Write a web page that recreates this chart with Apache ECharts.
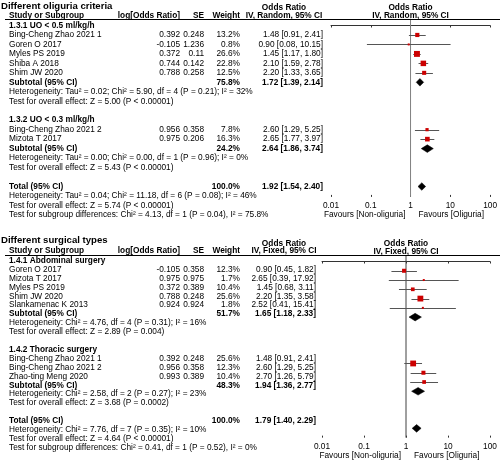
<!DOCTYPE html>
<html><head><meta charset="utf-8">
<script src="https://cdn.jsdelivr.net/npm/echarts@6/dist/echarts.min.js"></script>
<style>html,body{margin:0;padding:0;background:#fff}#c{width:500px;height:461px}</style>
</head><body><div id="c"></div><script>
// ---------------- Panel 1 data ----------------
const p1Title = "Different oliguria criteria";
const p1Model = "IV, Random, 95% CI";
const p1Groups = ["1.3.1 UO < 0.5 ml/kg/h", "1.3.2 UO < 0.3 ml/kg/h"];
const p1Studies = ["Bing-Cheng Zhao 2021 1", "Goren O 2017", "Myles PS 2019", "Shiba A 2018", "Shim JW 2020", "Bing-Cheng Zhao 2021 2", "Mizota T 2017"];
const p1StudyGroup = [0, 0, 0, 0, 0, 1, 1];
const p1LogOR = ["0.392", "-0.105", "0.372", "0.744", "0.788", "0.956", "0.975"];
const p1SE = ["0.248", "1.236", "0.11", "0.142", "0.258", "0.358", "0.206"];
const p1Weight = [13.2, 0.8, 26.6, 22.8, 12.5, 7.8, 16.3];
const p1OR = [1.48, 0.90, 1.45, 2.10, 2.20, 2.60, 2.65];
const p1Lo = [0.91, 0.08, 1.17, 1.59, 1.33, 1.29, 1.77];
const p1Hi = [2.41, 10.15, 1.80, 2.78, 3.65, 5.25, 3.97];
const p1SubWeight = [75.8, 24.2];
const p1SubOR = [1.72, 2.64];
const p1SubLo = [1.39, 1.86];
const p1SubHi = [2.14, 3.74];
const p1SubHet = ["Heterogeneity: Tau² = 0.02; Chi² = 5.90, df = 4 (P = 0.21); I² = 32%",
                  "Heterogeneity: Tau² = 0.00; Chi² = 0.00, df = 1 (P = 0.96); I² = 0%"];
const p1SubTest = ["Test for overall effect: Z = 5.00 (P < 0.00001)",
                   "Test for overall effect: Z = 5.43 (P < 0.00001)"];
const p1Total = [1.92, 1.54, 2.40];
const p1TotalNotes = ["Heterogeneity: Tau² = 0.04; Chi² = 11.18, df = 6 (P = 0.08); I² = 46%",
                      "Test for overall effect: Z = 5.74 (P < 0.00001)",
                      "Test for subgroup differences: Chi² = 4.13, df = 1 (P = 0.04), I² = 75.8%"];

// ---------------- Panel 2 data ----------------
const p2Title = "Different surgical types";
const p2Model = "IV, Fixed, 95% CI";
const p2Groups = ["1.4.1 Abdominal surgery", "1.4.2 Thoracic surgery"];
const p2Studies = ["Goren O 2017", "Mizota T 2017", "Myles PS 2019", "Shim JW 2020", "Slankamenac K 2013", "Bing-Cheng Zhao 2021 1", "Bing-Cheng Zhao 2021 2", "Zhao-ting Meng 2020"];
const p2StudyGroup = [0, 0, 0, 0, 0, 1, 1, 1];
const p2LogOR = ["-0.105", "0.975", "0.372", "0.788", "0.924", "0.392", "0.956", "0.993"];
const p2SE = ["0.358", "0.975", "0.389", "0.248", "0.924", "0.248", "0.358", "0.389"];
const p2Weight = [12.3, 1.7, 10.4, 25.6, 1.8, 25.6, 12.3, 10.4];
const p2OR = [0.90, 2.65, 1.45, 2.20, 2.52, 1.48, 2.60, 2.70];
const p2Lo = [0.45, 0.39, 0.68, 1.35, 0.41, 0.91, 1.29, 1.26];
const p2Hi = [1.82, 17.92, 3.11, 3.58, 15.41, 2.41, 5.25, 5.79];
const p2SubWeight = [51.7, 48.3];
const p2SubOR = [1.65, 1.94];
const p2SubLo = [1.18, 1.36];
const p2SubHi = [2.33, 2.77];
const p2SubHet = ["Heterogeneity: Chi² = 4.76, df = 4 (P = 0.31); I² = 16%",
                  "Heterogeneity: Chi² = 2.58, df = 2 (P = 0.27); I² = 23%"];
const p2SubTest = ["Test for overall effect: Z = 2.89 (P = 0.004)",
                   "Test for overall effect: Z = 3.68 (P = 0.0002)"];
const p2Total = [1.79, 1.40, 2.29];
const p2TotalNotes = ["Heterogeneity: Chi² = 7.76, df = 7 (P = 0.35); I² = 10%",
                      "Test for overall effect: Z = 4.64 (P < 0.00001)",
                      "Test for subgroup differences: Chi² = 0.41, df = 1 (P = 0.52), I² = 0%"];

const headers = ["Study or Subgroup", "log[Odds Ratio]", "SE", "Weight", "Odds Ratio"];
const axisTicks = ["0.01", "0.1", "1", "10", "100"];
const favours = ["Favours [Non-oliguria]", "Favours [Oliguria]"];

// ---------------- build ----------------
const FAM = '"Liberation Sans", Arial, sans-serif';
const FS = 8.3;
const P1 = {title:p1Title, model:p1Model, groups:p1Groups, studies:p1Studies, sg:p1StudyGroup, logor:p1LogOR, se:p1SE, w:p1Weight, or:p1OR, lo:p1Lo, hi:p1Hi,
  subW:p1SubWeight, subOR:p1SubOR, subLo:p1SubLo, subHi:p1SubHi, subHet:p1SubHet, subTest:p1SubTest, total:p1Total, totalNotes:p1TotalNotes,
  L:{y0:25.5, step:9.47, plotLeft:331, plotRight:493, pTop:-0.72, pBot:18.1, titleRow:-2.0, h1Row:-1.9, h2Row:-1.0, ruleRow:-0.72, orRight:323, orHdr:284, lineColor:'#808080'}};
const P2 = {title:p2Title, model:p2Model, groups:p2Groups, studies:p2Studies, sg:p2StudyGroup, logor:p2LogOR, se:p2SE, w:p2Weight, or:p2OR, lo:p2Lo, hi:p2Hi,
  subW:p2SubWeight, subOR:p2SubOR, subLo:p2SubLo, subHi:p2SubHi, subHet:p2SubHet, subTest:p2SubTest, total:p2Total, totalNotes:p2TotalNotes,
  L:{y0:261.5, step:9.27, plotLeft:322, plotRight:490, pTop:-0.68, pBot:19.0, titleRow:-2.3, h1Row:-1.94, h2Row:-1.08, ruleRow:-0.68, orRight:316, orHdr:284, lineColor:'#404040'}};

const fmtCI = (o, l, h) => o.toFixed(2) + " [" + l.toFixed(2) + ", " + h.toFixed(2) + "]";

const grids = [], xAxes = [], yAxes = [], series = [];

function textSeries(xi, yi, items, z) {
  return {
    type: 'custom', xAxisIndex: xi, yAxisIndex: yi, silent: true, clip: false, z: z || 5,
    data: items.map(t => [t.x, t.row]),
    renderItem: (params, api) => {
      const t = items[params.dataIndex];
      const p = api.coord([api.value(0), api.value(1)]);
      const font = (t.bold ? 'bold ' : '') + (t.size || FS) + 'px ' + FAM;
      return {type: 'text', x: p[0] + (t.dx || 0), y: p[1],
        style: {text: t.text, font: font, fill: '#000', align: t.align || 'left', verticalAlign: 'middle',
                textAlign: t.align || 'left', textVerticalAlign: 'middle'}};
    }
  };
}

function buildPanel(P) {
  const L = P.L;
  const tMin = -2.5, tMax = 22.5;
  // text grid
  const gT = grids.length;
  grids.push({left: 0, width: 500, top: L.y0 + tMin * L.step, height: (tMax - tMin) * L.step});
  const xT = xAxes.length;
  xAxes.push({type: 'value', gridIndex: gT, min: 0, max: 500, show: false});
  const yT = yAxes.length;
  yAxes.push({type: 'value', gridIndex: gT, min: tMin, max: tMax, inverse: true, show: false});
  // plot grid
  const gP = grids.length;
  grids.push({left: L.plotLeft, width: L.plotRight - L.plotLeft, top: L.y0 + L.pTop * L.step, height: (L.pBot - L.pTop) * L.step});
  const xP = xAxes.length;
  xAxes.push({type: 'log', logBase: 10, gridIndex: gP, min: 0.01, max: 100, interval: 1,
    axisLine: {show: true, lineStyle: {color: '#333', width: 1}},
    axisTick: {show: true, length: 2, lineStyle: {color: '#333'}},
    axisLabel: {show: true, fontSize: FS, fontFamily: FAM, color: '#000', margin: 5,
      formatter: v => String(+(+v).toPrecision(3))},
    splitLine: {show: false}});
  xAxes.push({type: 'log', logBase: 10, gridIndex: gP, min: 0.01, max: 100, interval: 1, position: 'bottom',
    axisLine: {show: false}, axisTick: {show: true, inside: true, length: 2, lineStyle: {color: '#333'}},
    axisLabel: {show: false}, splitLine: {show: false}});
  const yP = yAxes.length;
  yAxes.push({type: 'value', gridIndex: gP, min: L.pTop, max: L.pBot, inverse: true, show: false});

  // rows
  const items = [], plotItems = [];
  const sq = [], ci = [], dia = [];
  let r = 0;
  P.groups.forEach((g, gi) => {
    items.push({x: 9, row: r, text: g, bold: true}); r++;
    P.studies.forEach((s, i) => {
      if (P.sg[i] !== gi) return;
      items.push({x: 9, row: r, text: s});
      items.push({x: 180, row: r, text: P.logor[i], align: 'right'});
      items.push({x: 204, row: r, text: P.se[i], align: 'right'});
      items.push({x: 240, row: r, text: P.w[i].toFixed(1) + '%', align: 'right'});
      items.push({x: L.orRight, row: r, text: fmtCI(P.or[i], P.lo[i], P.hi[i]), align: 'right'});
      sq.push([P.or[i], r, P.w[i]]);
      ci.push([P.lo[i], P.hi[i], r]);
      r++;
    });
    items.push({x: 9, row: r, text: 'Subtotal (95% CI)', bold: true});
    items.push({x: 240, row: r, text: P.subW[gi].toFixed(1) + '%', bold: true, align: 'right'});
    items.push({x: L.orRight, row: r, text: fmtCI(P.subOR[gi], P.subLo[gi], P.subHi[gi]), bold: true, align: 'right'});
    dia.push([P.subOR[gi], P.subLo[gi], P.subHi[gi], r]);
    r++;
    items.push({x: 9, row: r, text: P.subHet[gi]}); r++;
    items.push({x: 9, row: r, text: P.subTest[gi]}); r++;
    r++;
  });
  items.push({x: 9, row: r, text: 'Total (95% CI)', bold: true});
  items.push({x: 240, row: r, text: '100.0%', bold: true, align: 'right'});
  items.push({x: L.orRight, row: r, text: fmtCI(P.total[0], P.total[1], P.total[2]), bold: true, align: 'right'});
  dia.push([P.total[0], P.total[1], P.total[2], r]);
  r++;
  P.totalNotes.forEach(t => { items.push({x: 9, row: r, text: t}); r++; });
  const lastRow = r - 1;

  // headers
  items.push({x: 1, row: L.titleRow, text: P.title, bold: true, size: 9.6});
  items.push({x: 9, row: L.h2Row, text: headers[0], bold: true});
  items.push({x: 180, row: L.h2Row, text: headers[1], bold: true, align: 'right'});
  items.push({x: 204, row: L.h2Row, text: headers[2], bold: true, align: 'right'});
  items.push({x: 240, row: L.h2Row, text: headers[3], bold: true, align: 'right'});
  items.push({x: L.orHdr, row: L.h1Row, text: headers[4], bold: true, align: 'center'});
  items.push({x: L.orHdr, row: L.h2Row, text: P.model, bold: true, align: 'center'});
  plotItems.push({x: 1, row: L.h1Row, text: headers[4], bold: true, align: 'center'});
  plotItems.push({x: 1, row: L.h2Row, text: P.model, bold: true, align: 'center'});
  plotItems.push({x: 1, row: lastRow, text: favours[0], align: 'right', dx: -5});
  plotItems.push({x: 1, row: lastRow, text: favours[1], align: 'left', dx: 8});

  series.push(textSeries(xT, yT, items));
  series.push(textSeries(xP, yP, plotItems));

  // header rule
  series.push({type: 'custom', xAxisIndex: xT, yAxisIndex: yT, silent: true, clip: false, z: 3,
    data: [[5, 500, L.ruleRow]],
    renderItem: (params, api) => {
      const a = api.coord([api.value(0), api.value(2)]), b = api.coord([api.value(1), api.value(2)]);
      return {type: 'line', shape: {x1: a[0], y1: Math.round(a[1]) + 0.5, x2: b[0], y2: Math.round(b[1]) + 0.5}, style: {stroke: '#000', lineWidth: 1}};
    }});
  // line of no effect
  series.push({type: 'line', xAxisIndex: xP, yAxisIndex: yP, silent: true, symbol: 'none', z: 2,
    data: [[1, L.ruleRow], [1, L.pBot]], lineStyle: {color: L.lineColor, width: 1}});
  // CI lines
  series.push({type: 'custom', xAxisIndex: xP, yAxisIndex: yP, silent: true, clip: false, z: 3,
    data: ci,
    renderItem: (params, api) => {
      const a = api.coord([api.value(0), api.value(2)]), b = api.coord([api.value(1), api.value(2)]);
      const y = Math.round(a[1]) + 0.5;
      return {type: 'line', shape: {x1: a[0], y1: y, x2: b[0], y2: y}, style: {stroke: '#555', lineWidth: 1}};
    }});
  // squares
  series.push({type: 'scatter', xAxisIndex: xP, yAxisIndex: yP, silent: true, z: 4,
    symbol: 'rect', symbolSize: v => Math.max(2, 1.15 * Math.sqrt(v[2])),
    itemStyle: {color: '#cc0000', opacity: 1}, data: sq});
  // diamonds
  series.push({type: 'custom', xAxisIndex: xP, yAxisIndex: yP, silent: true, clip: false, z: 4,
    data: dia,
    renderItem: (params, api) => {
      const c = api.coord([api.value(0), api.value(3)]);
      const l = api.coord([api.value(1), api.value(3)]);
      const h = api.coord([api.value(2), api.value(3)]);
      const hh = 3.8;
      return {type: 'polygon', shape: {points: [[l[0], c[1]], [c[0], c[1] - hh], [h[0], c[1]], [c[0], c[1] + hh]]},
        style: {fill: '#000', stroke: '#000', lineWidth: 0.5}};
    }});
}

buildPanel(P1);
buildPanel(P2);

const chart = echarts.init(document.getElementById('c'), null, {renderer: 'canvas'});
chart.setOption({
  animation: false, backgroundColor: '#fff',
  grid: grids, xAxis: xAxes, yAxis: yAxes, series: series
});
</script></body></html>
